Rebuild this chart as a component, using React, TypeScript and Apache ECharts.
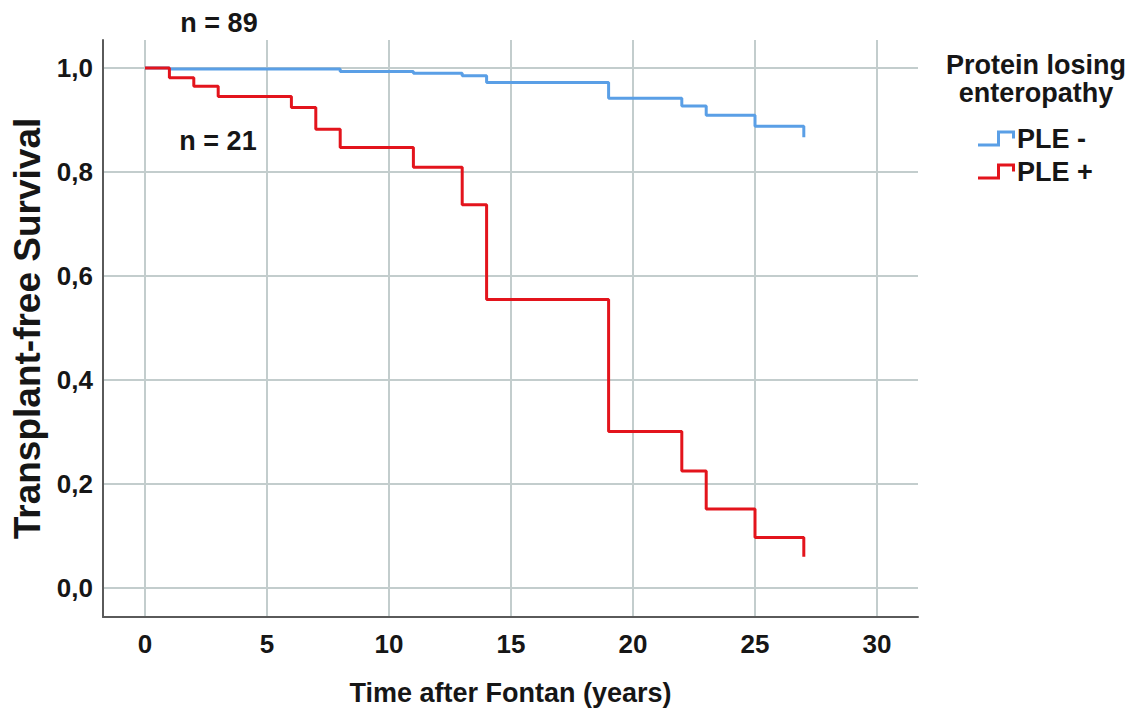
import React, { useEffect, useRef } from "react";
import * as echarts from "echarts";

const xTicks = [0, 5, 10, 15, 20, 25, 30];
const yTicks = [0, 0.2, 0.4, 0.6, 0.8, 1.0];

const pleMinusTime = [0, 1, 8, 11, 13, 14, 19, 22, 23, 25, 27];
const pleMinusSurv = [1.0, 0.998, 0.993, 0.99, 0.985, 0.972, 0.942, 0.927, 0.909, 0.888, 0.867];

const plePlusTime = [0, 1, 2, 3, 6, 7, 8, 11, 13, 14, 19, 22, 23, 25, 27];
const plePlusSurv = [1.0, 0.981, 0.965, 0.945, 0.924, 0.882, 0.847, 0.809, 0.737, 0.555, 0.301, 0.225, 0.152, 0.097, 0.06];

const seriesNames = ["PLE -", "PLE +"];
const legendTitle = ["Protein losing", "enteropathy"];
const nLabels = ["n = 89", "n = 21"];

const FONT = "'Liberation Sans', Arial, sans-serif";
const TEXT = "#161616";
const ICON = "path://M0,13 L19,13 L19,0 L37,0 L37,8 L34,8 L34,3 L22,3 L22,16 L0,16 Z";

export default function App() {
  const ref = useRef<HTMLDivElement>(null);
  useEffect(() => {
    document.body.style.margin = "0";
    const chart = echarts.init(ref.current!, null, { renderer: "svg" });
    const fmt = (v: number) => v.toFixed(1).replace(".", ",");
    chart.setOption({
      animation: false,
      backgroundColor: "#ffffff",
      textStyle: { fontFamily: FONT },
      grid: { left: 103, right: 219, top: 40, bottom: 98, containLabel: false },
      xAxis: {
        type: "value",
        min: -1.721,
        max: 31.68,
        name: "Time after Fontan (years)",
        nameLocation: "middle",
        nameGap: 62,
        nameTextStyle: { fontSize: 27, fontWeight: "bold", color: TEXT, fontFamily: FONT },
        axisLine: { show: true, onZero: false, lineStyle: { color: "#5a5a5a", width: 2 } },
        axisTick: { show: false, customValues: xTicks },
        axisLabel: {
          customValues: xTicks,
          fontSize: 26,
          fontWeight: "bold",
          color: TEXT,
          margin: 14,
          fontFamily: FONT,
        },
        splitLine: { show: true, lineStyle: { color: "#c3cdcd", width: 2 } },
      },
      yAxis: {
        type: "value",
        min: -0.0558,
        max: 1.0538,
        name: "Transplant-free Survival",
        nameLocation: "middle",
        nameGap: 54,
        nameTextStyle: { fontSize: 37, fontWeight: "bold", color: TEXT, fontFamily: FONT },
        axisLine: { show: true, onZero: false, lineStyle: { color: "#5a5a5a", width: 2 } },
        axisTick: { show: false, customValues: yTicks },
        axisLabel: {
          customValues: yTicks,
          formatter: fmt,
          fontSize: 26,
          fontWeight: "bold",
          color: TEXT,
          margin: 10,
          fontFamily: FONT,
        },
        splitLine: { show: true, lineStyle: { color: "#c3cdcd", width: 2 } },
      },
      legend: {
        data: seriesNames.map((n) => ({ name: n, icon: ICON })),
        orient: "vertical",
        left: 978,
        top: 125,
        padding: 0,
        itemWidth: 37,
        itemHeight: 16,
        itemGap: 6,
        itemStyle: { borderWidth: 0 },
        textStyle: { fontSize: 27, fontWeight: "bold", color: TEXT, fontFamily: FONT, padding: [0, 0, 0, -3] },
      },
      graphic: [
        {
          type: "text",
          x: 1036,
          y: 65,
          style: {
            text: legendTitle[0],
            font: `bold 27px ${FONT}`,
            fill: TEXT,
            textAlign: "center",
            textVerticalAlign: "middle",
          },
        },
        {
          type: "text",
          x: 1036,
          y: 93,
          style: {
            text: legendTitle[1],
            font: `bold 27px ${FONT}`,
            fill: TEXT,
            textAlign: "center",
            textVerticalAlign: "middle",
          },
        },
        {
          type: "text",
          x: 219,
          y: 23,
          style: {
            text: nLabels[0],
            font: `bold 27px ${FONT}`,
            fill: TEXT,
            textAlign: "center",
            textVerticalAlign: "middle",
          },
        },
        {
          type: "text",
          x: 218,
          y: 141,
          style: {
            text: nLabels[1],
            font: `bold 27px ${FONT}`,
            fill: TEXT,
            textAlign: "center",
            textVerticalAlign: "middle",
          },
        },
      ],
      series: [
        {
          name: seriesNames[0],
          type: "line",
          step: "end",
          showSymbol: false,
          symbol: "none",
          lineStyle: { color: "#5a9fe6", width: 3 },
          itemStyle: { color: "#5a9fe6" },
          data: pleMinusTime.map((t, i) => [t, pleMinusSurv[i]]),
          z: 2,
        },
        {
          name: seriesNames[1],
          type: "line",
          step: "end",
          showSymbol: false,
          symbol: "none",
          lineStyle: { color: "#e3141c", width: 3 },
          itemStyle: { color: "#e3141c" },
          data: plePlusTime.map((t, i) => [t, plePlusSurv[i]]),
          z: 3,
        },
      ],
    });
    return () => chart.dispose();
  }, []);
  return <div ref={ref} style={{ width: 1137, height: 715 }} />;
}
